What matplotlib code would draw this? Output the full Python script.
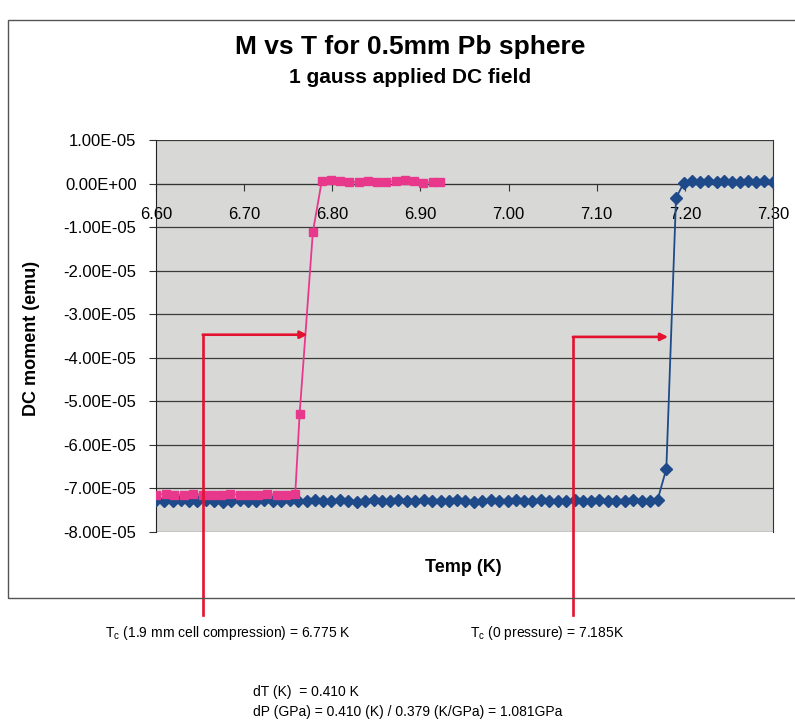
import matplotlib
matplotlib.use("Agg")
from matplotlib import pyplot as plt
from matplotlib.patches import Rectangle
from matplotlib.ticker import FuncFormatter, MultipleLocator

plt.rcParams['font.family'] = ['Liberation Sans', 'DejaVu Sans']
plt.rcParams['mathtext.fontset'] = 'custom'
plt.rcParams['mathtext.rm'] = 'Liberation Sans'
plt.rcParams['mathtext.it'] = 'Liberation Sans'

# Data (moment in units of 1e-5 emu)
pink_T = [6.600, 6.611, 6.621, 6.632, 6.642, 6.653, 6.663, 6.674, 6.684, 6.695,
          6.705, 6.716, 6.726, 6.737, 6.747, 6.758, 6.763, 6.778, 6.788, 6.798,
          6.809, 6.819, 6.830, 6.840, 6.851, 6.861, 6.872, 6.882, 6.893, 6.903,
          6.914, 6.922]
pink_M = [-7.14, -7.13, -7.15, -7.14, -7.13, -7.14, -7.15, -7.14, -7.13, -7.14,
          -7.15, -7.14, -7.13, -7.14, -7.14, -7.13, -5.28, -1.11, 0.05, 0.08,
          0.06, 0.04, 0.03, 0.05, 0.04, 0.03, 0.06, 0.09, 0.05, 0.02,
          0.03, 0.03]

blue_T = [6.600, 6.609, 6.619, 6.628, 6.638, 6.647, 6.657, 6.666, 6.676, 6.685,
          6.695, 6.704, 6.714, 6.723, 6.733, 6.742, 6.752, 6.761, 6.771, 6.780,
          6.790, 6.799, 6.809, 6.818, 6.828, 6.837, 6.847, 6.856, 6.866, 6.875,
          6.885, 6.894, 6.904, 6.913, 6.923, 6.932, 6.942, 6.951, 6.961, 6.970,
          6.980, 6.989, 6.999, 7.008, 7.018, 7.027, 7.037, 7.046, 7.056, 7.065,
          7.075, 7.084, 7.094, 7.103, 7.113, 7.122, 7.132, 7.141, 7.151, 7.160,
          7.169, 7.179, 7.190, 7.199, 7.208, 7.217, 7.226, 7.236, 7.245, 7.254,
          7.263, 7.272, 7.281, 7.290, 7.300]
blue_M = [-7.27, -7.29, -7.28, -7.26, -7.28, -7.29, -7.27, -7.28, -7.30, -7.28,
          -7.27, -7.29, -7.28, -7.27, -7.29, -7.28, -7.26, -7.28, -7.29, -7.27,
          -7.28, -7.29, -7.27, -7.28, -7.30, -7.28, -7.27, -7.29, -7.28, -7.27,
          -7.28, -7.29, -7.27, -7.28, -7.29, -7.28, -7.27, -7.28, -7.30, -7.28,
          -7.27, -7.29, -7.28, -7.27, -7.28, -7.29, -7.27, -7.28, -7.29, -7.28,
          -7.27, -7.28, -7.29, -7.27, -7.28, -7.29, -7.28, -7.27, -7.28, -7.29,
          -7.27, -6.55, -0.33, 0.02, 0.05, 0.04, 0.06, 0.03, 0.05, 0.04,
          0.03, 0.05, 0.04, 0.05, 0.04]

tc_low = 6.775
tc_zero = 7.185
title = "M vs T for 0.5mm Pb sphere"
subtitle = "1 gauss applied DC field"

# Colours
PINK = '#E8388C'
BLUE = '#1F4A8A'
RED = '#E3122F'

fig = plt.figure(figsize=(7.95, 7.27), dpi=100)

# outer chart frame (cut off on the right by the scan)
fig.patches.append(Rectangle((0.010, 0.1775), 1.02, 0.795, transform=fig.transFigure,
                             fill=False, edgecolor='#555555', lw=1.0))

ax = fig.add_axes([0.1962, 0.2682, 0.7761, 0.5392])
ax.set_facecolor('#d8d9d7')

ax.plot(blue_T, [m * 1e-5 for m in blue_M], color=BLUE, lw=1.3, marker='D',
        markersize=6, zorder=4)
ax.plot(pink_T, [m * 1e-5 for m in pink_M], color=PINK, lw=1.3, marker='s',
        markersize=6, zorder=5)

ax.set_xlim(6.60, 7.30)
ax.set_ylim(-8e-5, 1e-5)
ax.xaxis.set_major_locator(MultipleLocator(0.1))
ax.yaxis.set_major_locator(MultipleLocator(1e-5))
ax.xaxis.set_major_formatter(FuncFormatter(lambda v, p: '%.2f' % v))
ax.yaxis.set_major_formatter(FuncFormatter(lambda v, p: '%.2E' % v))

ax.grid(axis='y', color='#3a3a3a', lw=0.9)
ax.set_axisbelow(True)
ax.spines['bottom'].set_position(('data', 0))
ax.spines['bottom'].set_color('#333333')
ax.spines['top'].set_visible(False)
ax.spines['right'].set_color('#333333')
ax.spines['left'].set_color('#222222')
ax.tick_params(axis='x', direction='out', length=5, pad=12, labelsize=12, color='#333333')
ax.tick_params(axis='y', direction='out', length=5, pad=9, labelsize=12, color='#333333')

# Tc arrows
yv = -3.47e-5
ax.plot([6.653, 6.653], [-9.9e-5, yv], color=RED, lw=1.9, clip_on=False, zorder=6)
ax.annotate('', xy=(6.772, yv), xytext=(6.653, yv), annotation_clip=False,
            arrowprops=dict(arrowstyle='-|>', color=RED, lw=1.9, mutation_scale=11,
                            shrinkA=0, shrinkB=0), zorder=6)
yv2 = -3.52e-5
ax.plot([7.073, 7.073], [-9.9e-5, yv2], color=RED, lw=1.9, clip_on=False, zorder=6)
ax.annotate('', xy=(7.181, yv2), xytext=(7.073, yv2), annotation_clip=False,
            arrowprops=dict(arrowstyle='-|>', color=RED, lw=1.9, mutation_scale=11,
                            shrinkA=0, shrinkB=0), zorder=6)

# titles and axis labels
fig.text(0.516, 0.935, title, ha='center', va='center', fontsize=19, fontweight='bold')
fig.text(0.516, 0.893, subtitle, ha='center', va='center', fontsize=15, fontweight='bold')
fig.text(0.583, 0.22, "Temp (K)", ha='center', va='center', fontsize=13, fontweight='bold')
fig.text(0.04, 0.535, "DC moment (emu)", ha='center', va='center', rotation=90,
         fontsize=13, fontweight='bold')

# notes below the chart
fig.text(0.132, 0.129, "T$_{\\mathrm{c}}$ (1.9 mm cell compression) = %.3f K" % tc_low,
         ha='left', va='center', fontsize=10)
fig.text(0.591, 0.129, "T$_{\\mathrm{c}}$ (0 pressure) = %.3fK" % tc_zero,
         ha='left', va='center', fontsize=10)
dT = tc_zero - tc_low
fig.text(0.318, 0.048, "dT (K)  = %.3f K" % dT, ha='left', va='center', fontsize=10)
fig.text(0.318, 0.021, "dP (GPa) = %.3f (K) / 0.379 (K/GPa) = 1.081GPa" % dT,
         ha='left', va='center', fontsize=10)

fig.savefig('out.png', dpi=100)
